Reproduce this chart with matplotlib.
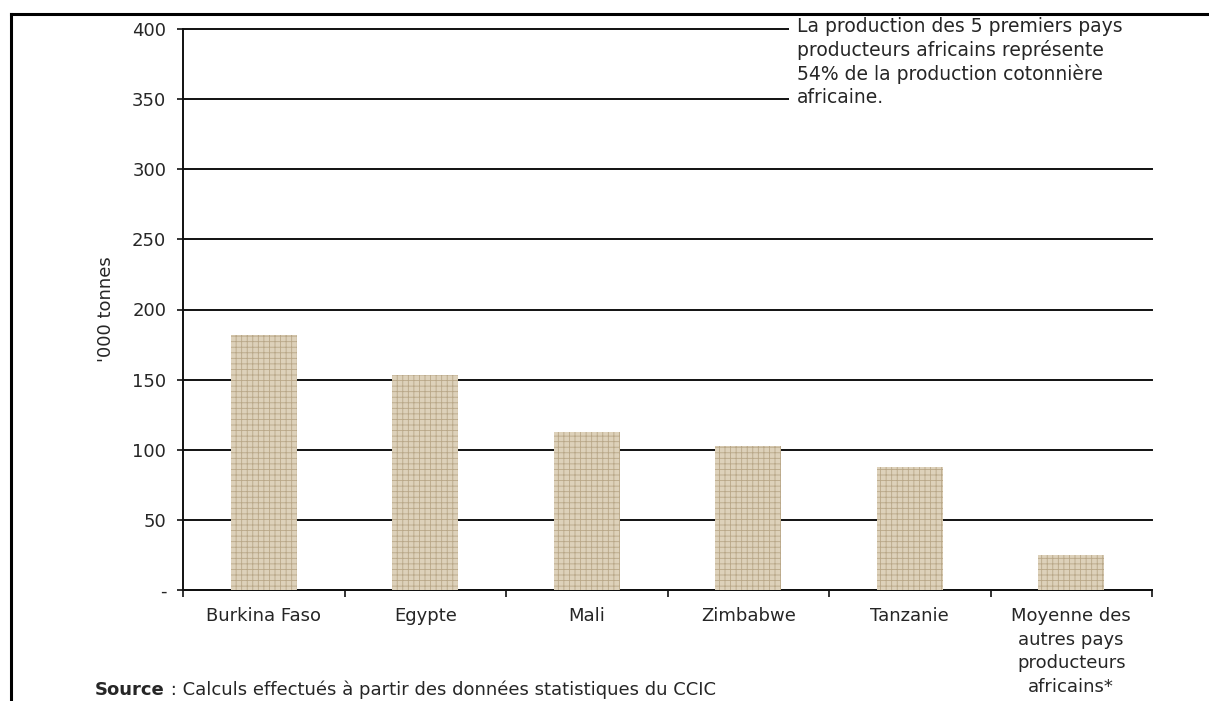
import matplotlib
matplotlib.use("Agg")
import matplotlib.pyplot as plt
from matplotlib.lines import Line2D
from matplotlib.patches import Rectangle

categories = ["Burkina Faso", "Egypte", "Mali", "Zimbabwe", "Tanzanie",
              "Moyenne des\nautres pays\nproducteurs\nafricains*"]
values = [182, 153, 113, 103, 88, 25]
yticks = [0, 50, 100, 150, 200, 250, 300, 350, 400]
ytick_labels = ["-", "50", "100", "150", "200", "250", "300", "350", "400"]
ylabel = "'000 tonnes"
note = ("La production des 5 premiers pays\nproducteurs africains représente\n"
        "54% de la production cotonnière\nafricaine.")
source_bold = "Source"
source_rest = " : Calculs effectués à partir des données statistiques du CCIC"

W, H = 1209, 701
plt.rcParams['font.family'] = ['DejaVu Sans']
plt.rcParams['hatch.linewidth'] = 0.6
fig = plt.figure(figsize=(W / 100, H / 100), dpi=100)

def fx(px):
    return px / W

def fy(py):
    return 1 - py / H

FS = 13
TXT = "#262626"

ax = fig.add_axes([fx(183), fy(590), fx(1152) - fx(183), fy(29) - fy(590)])

n = len(categories)
x = list(range(n))
ax.bar(x, values, width=0.41, color="#ddd1ba", edgecolor="#b9a788",
       hatch="+++", linewidth=0, zorder=3)

ax.set_xlim(-0.5, n - 0.5)
ax.set_ylim(0, 400)
ax.set_yticks(yticks)
ax.set_yticklabels(ytick_labels, fontsize=FS, color=TXT)
ax.yaxis.grid(True, color="#111111", linewidth=1.4, zorder=1)
ax.set_axisbelow(True)
for gl in ax.yaxis.get_gridlines():
    gl.set_clip_on(False)

ax.set_xticks(x)
ax.set_xticklabels(categories, fontsize=FS, color=TXT, linespacing=1.42,
                   va="top")
ax.set_xticks([i - 0.5 for i in range(n + 1)], minor=True)
ax.tick_params(axis="x", which="major", length=0, pad=12)
ax.tick_params(axis="x", which="minor", length=5, width=1.2, color="#111111")
ax.tick_params(axis="y", length=4, width=1.2, color="#111111", pad=8)

for s in ["top", "right"]:
    ax.spines[s].set_visible(False)
for s in ["left", "bottom"]:
    ax.spines[s].set_color("#111111")
    ax.spines[s].set_linewidth(1.4)

ax.set_ylabel(ylabel, fontsize=FS, color=TXT, labelpad=12)

# white box behind the note
fig.add_artist(Rectangle((fx(789), fy(110)), fx(1170) - fx(789), fy(16) - fy(110),
                         transform=fig.transFigure, facecolor="white",
                         edgecolor="none", zorder=9))
fig.text(fx(797), fy(17), note, fontsize=13.5, color=TXT, va="top",
         ha="left", linespacing=1.25, zorder=10)

t1 = fig.text(fx(95), fy(690), source_bold, fontsize=FS, fontweight="bold",
              color=TXT, va="center", ha="left")
fig.canvas.draw()
bb = t1.get_window_extent(fig.canvas.get_renderer())
fig.text(bb.x1 / W, fy(690), source_rest, fontsize=FS, color=TXT,
         va="center", ha="left")

# outer frame (left and top edges)
fig.add_artist(Line2D([fx(11), fx(11)], [fy(14), 0], transform=fig.transFigure,
                      color="black", linewidth=2.2, zorder=11))
fig.add_artist(Line2D([fx(11), 1.0], [fy(14), fy(14)], transform=fig.transFigure,
                      color="black", linewidth=2.2, zorder=11))

fig.savefig("out.png", dpi=100)
